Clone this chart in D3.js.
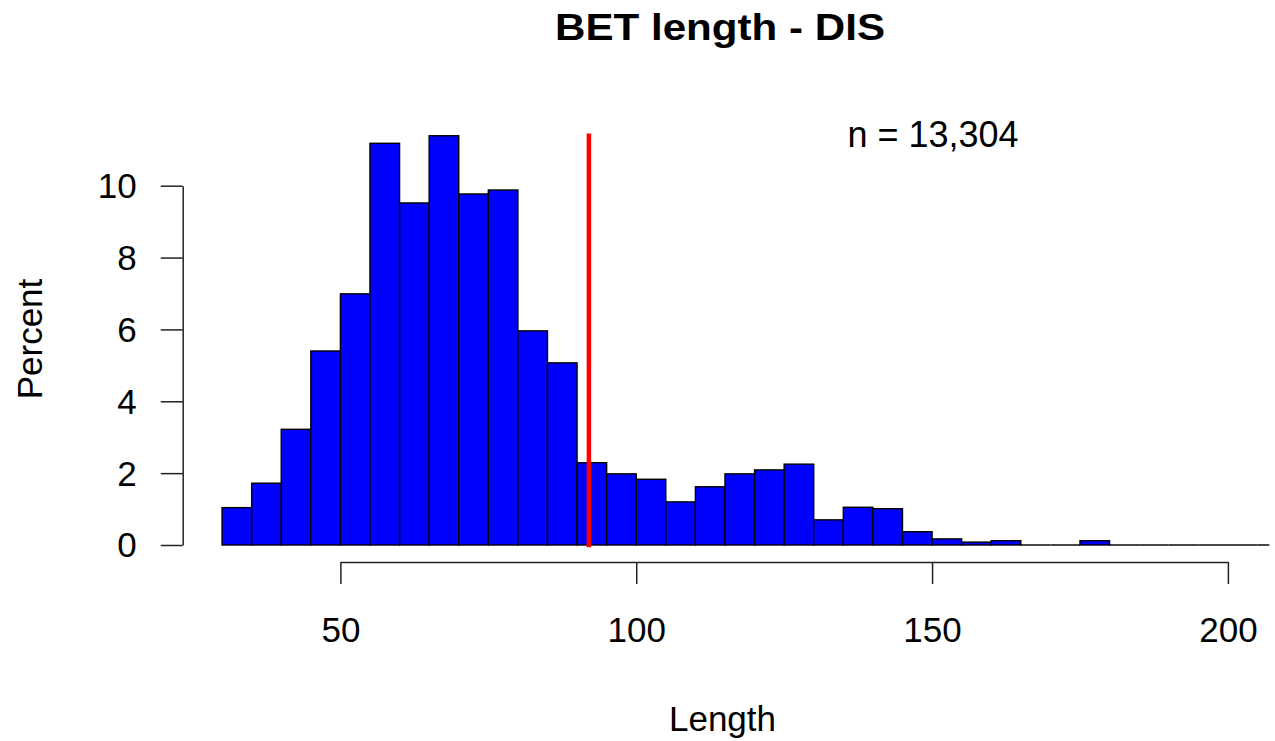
<!DOCTYPE html>
<html>
<head>
<meta charset="utf-8">
<script src="https://cdn.jsdelivr.net/npm/d3@7"></script>
<style>
  body { margin: 0; background: #fff; }
  text { font-family: "Liberation Sans", Arial, sans-serif; fill: #000; }
</style>
</head>
<body>
<script>
  // bin edges (Length) and percent of reads per bin
  var breaks = [30, 35, 40, 45, 50, 55, 60, 65, 70, 75, 80, 85, 90, 95, 100, 105, 110, 115, 120,
                125, 130, 135, 140, 145, 150, 155, 160, 165, 170, 175, 180, 185, 190, 195, 200, 205, 207];
  var percent = [1.04, 1.72, 3.22, 5.40, 6.99, 11.18, 9.52, 11.39, 9.77, 9.88, 5.96, 5.07, 2.29,
                 1.98, 1.83, 1.20, 1.62, 1.98, 2.09, 2.25, 0.70, 1.05, 1.01, 0.37, 0.17, 0.08,
                 0.12, 0, 0, 0.12, 0, 0, 0, 0, 0, 0];
  var xTicks = [50, 100, 150, 200];
  var yTicks = [0, 2, 4, 6, 8, 10];
  var meanLength = 92.0;
  var nLabel = "n = 13,304";

  var width = 1275, height = 741;

  var svg = d3.select("body").append("svg")
      .attr("width", width)
      .attr("height", height);

  var x = d3.scaleLinear().domain([50, 200]).range([340.4, 1227.9]);
  var y = d3.scaleLinear().domain([0, 10]).range([545, 185.7]);

  var bins = percent.map(function(p, i) { return {x0: breaks[i], x1: breaks[i + 1], p: p}; });

  // empty bins still show as a flat line on the baseline
  svg.selectAll("line.empty").data(bins.filter(function(d) { return d.p === 0; }))
    .enter().append("line")
      .attr("class", "empty")
      .attr("x1", function(d) { return x(d.x0); })
      .attr("x2", function(d) { return x(d.x1); })
      .attr("y1", y(0)).attr("y2", y(0))
      .style("stroke", "#333")
      .style("stroke-width", 1.8);

  svg.selectAll("rect.bar").data(bins.filter(function(d) { return d.p > 0; }))
    .enter().append("rect")
      .attr("class", "bar")
      .attr("x", function(d) { return x(d.x0); })
      .attr("width", function(d) { return x(d.x1) - x(d.x0); })
      .attr("y", function(d) { return y(d.p); })
      .attr("height", function(d) { return y(0) - y(d.p); })
      .style("fill", "#0000FF")
      .style("stroke", "#000")
      .style("stroke-width", 1.4);

  // mean line
  svg.append("line")
      .attr("x1", x(meanLength)).attr("x2", x(meanLength))
      .attr("y1", y(0)).attr("y2", y(d3.max(percent)))
      .style("stroke", "#FF0000")
      .style("stroke-width", 4.5)
      .style("stroke-linecap", "square");

  var xAxis = svg.append("g")
      .attr("transform", "translate(0,562)")
      .call(d3.axisBottom(x).tickValues(xTicks).tickSize(22).tickSizeOuter(0));
  xAxis.selectAll("text")
      .attr("y", 80).attr("dy", null)
      .style("font-size", "35px");

  var yAxis = svg.append("g")
      .attr("transform", "translate(182.7,0)")
      .call(d3.axisLeft(y).tickValues(yTicks).tickSize(22).tickSizeOuter(0));
  yAxis.selectAll("text")
      .attr("x", -46)
      .attr("dy", "0.34em")
      .style("font-size", "35px");

  svg.selectAll(".domain, .tick line")
      .style("stroke", "#222")
      .style("stroke-width", 1.5);

  svg.append("text")
      .attr("x", 720).attr("y", 40)
      .attr("text-anchor", "middle")
      .attr("textLength", 330)
      .attr("lengthAdjust", "spacingAndGlyphs")
      .style("font-size", "36px")
      .style("font-weight", "bold")
      .text("BET length - DIS");

  svg.append("text")
      .attr("x", 933).attr("y", 147.3)
      .attr("text-anchor", "middle")
      .style("font-size", "36px")
      .text(nLabel);

  svg.append("text")
      .attr("x", 722.5).attr("y", 730.5)
      .attr("text-anchor", "middle")
      .style("font-size", "35px")
      .text("Length");

  svg.append("text")
      .attr("transform", "translate(41.7,339) rotate(-90)")
      .attr("text-anchor", "middle")
      .style("font-size", "35px")
      .text("Percent");
</script>
</body>
</html>
